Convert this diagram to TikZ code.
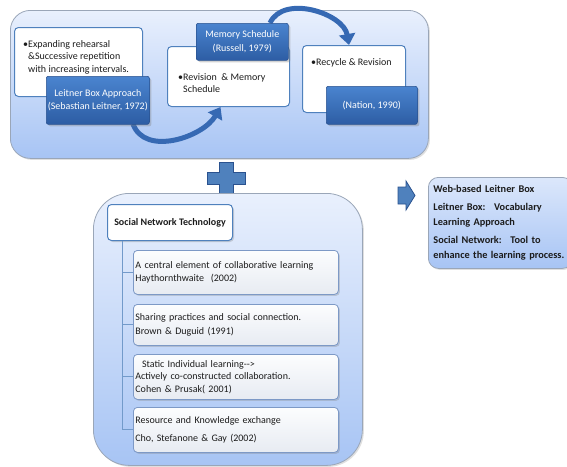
\documentclass[tikz,border=0pt]{standalone}
\usepackage{fontspec}
\setmainfont{Carlito}
\usetikzlibrary{calc,shadows,arrows.meta}

\definecolor{panelTop}{HTML}{E9F0FD}
\definecolor{panelBottom}{HTML}{A7C4F4}
\definecolor{panelEdge}{HTML}{9AA6B8}
\definecolor{boxEdge}{HTML}{4F81BD}
\definecolor{darkTop}{HTML}{4A84CF}
\definecolor{darkBottom}{HTML}{2D5DA4}
\definecolor{darkEdge}{HTML}{2A528F}
\definecolor{arrowBlue}{HTML}{3669B3}
\definecolor{refTop}{HTML}{FCFDFE}
\definecolor{refBottom}{HTML}{E7EBF2}
\definecolor{refEdge}{HTML}{7D99C6}
\definecolor{textDark}{HTML}{1C1C1C}

\newcommand{\noteFont}{\fontsize{10}{12.5}\selectfont}
\newcommand{\refLeft}{133}
\newcommand{\trunkOffset}{15}

\begin{document}
\begin{tikzpicture}[x=1pt, y=-1pt,
	panel/.style={draw=panelEdge, line width=.8pt, top color=panelTop, bottom color=panelBottom, anchor=north west, inner sep=0pt, drop shadow={shadow xshift=1.5pt, shadow yshift=-1.5pt, opacity=.25}},
	notebox/.style={draw=boxEdge, line width=1pt, fill=white, rounded corners=4pt, anchor=north west, inner sep=0pt},
	notetext/.style={anchor=north west, inner sep=0pt, align=left, font=\noteFont, text=textDark},
	titlebox/.style={draw=darkEdge, line width=.6pt, top color=darkTop, bottom color=darkBottom, rounded corners=2pt, anchor=north west, inner sep=0pt, align=center, text=white, font=\fontsize{10}{13.5}\selectfont, drop shadow={shadow xshift=2pt, shadow yshift=-2pt, opacity=.35}},
	refbox/.style={draw=refEdge, line width=.8pt, top color=refTop, bottom color=refBottom, rounded corners=4pt, anchor=north west, minimum width=205pt, inner xsep=2pt, inner ysep=0pt, text width=201pt, align=left, font=\fontsize{10}{13.5}\selectfont, text=textDark, drop shadow={shadow xshift=1.5pt, shadow yshift=-1.5pt, opacity=.3}},
	curveArrow/.style={draw=arrowBlue, line width=5pt, -{Triangle[length=11pt, width=16pt]}},
	trunk/.style={draw=boxEdge!80, line width=.9pt}]
	
	\useasboundingbox (0,0) rectangle (567,466);
	
	% vocabulary learning approaches
	\node[panel, rounded corners=20pt, minimum width=418pt, minimum height=148pt] (leitnerPanel) at (10,10) {};
	\node[notebox, minimum width=128pt, minimum height=69pt] (expand) at (14,27) {};
	\node[notebox, minimum width=122pt, minimum height=60pt] (revision) at (167,46) {};
	\node[notebox, minimum width=103pt, minimum height=67pt] (recycle) at (302,45) {};
	\node[notetext] (expandText) at ([xshift=14pt, yshift=-13pt]expand.north west) {\llap{\textbullet}Expanding rehearsal\\\&Successive repetition\\with increasing intervals.};
	\node[notetext] (revisionText) at ([xshift=16pt, yshift=-27pt]revision.north west) {\llap{\textbullet}Revision \ \& Memory\\Schedule};
	\node[notetext] (recycleText) at ([xshift=14pt, yshift=-13pt]recycle.north west) {\llap{\textbullet}Recycle \& Revision};
	
	\draw[curveArrow] (133,124) to[out=-70, in=-120] ([xshift=-8pt]revision.south);
	\draw[curveArrow] (270,23) to[out=65, in=100] ([xshift=-5pt]recycle.north);
	
	\node[titlebox, minimum width=103pt, minimum height=48pt] (leitner) at (46,76) {Leitner Box Approach\\(Sebastian Leitner, 1972)};
	\node[titlebox, minimum width=92pt, minimum height=37pt] (memory) at (196,23) {Memory Schedule\\(Russell, 1979)};
	\node[titlebox, minimum width=91pt, minimum height=38pt] (nation) at (326,86) {(Nation, 1990)};
	
	% plus sign
	\draw[draw=darkEdge, line width=.8pt, fill=boxEdge] (219,162) -- (233,162) -- (233,172) -- (245,172) -- (245,184) -- (233,184) -- (233,194) -- (219,194) -- (219,184) -- (207,184) -- (207,172) -- (219,172) -- cycle;
	
	% social network technology
	\node[panel, rounded corners=36pt, minimum width=269pt, minimum height=272pt] (socialPanel) at (93,193) {};
	\node[notebox, minimum width=125pt, minimum height=36pt, font=\bfseries\fontsize{10}{12}\selectfont, text=textDark, drop shadow={shadow xshift=1.5pt, shadow yshift=-1.5pt, opacity=.3}] (snt) at (107,204) {Social Network Technology};
	\node[refbox, minimum height=44pt] (refA) at (\refLeft,250) {A central element of collaborative learning\\Haythornthwaite \ (2002)};
	\node[refbox, minimum height=41pt] (refB) at (\refLeft,304) {Sharing practices and social connection.\\Brown \& Duguid (1991)};
	\node[refbox, minimum height=45pt, font=\fontsize{10}{12.5}\selectfont] (refC) at (\refLeft,354) {\ \ Static Individual learning{-}{-}>\\Actively co-constructed collaboration.\\Cohen \& Prusak( 2001)};
	\node[refbox, minimum height=45pt] (refD) at (\refLeft,407) {Resource and Knowledge exchange\\[5pt]Cho, Stefanone \& Gay (2002)};
	
	\coordinate (trunkTop) at ([xshift=\trunkOffset pt]snt.south west);
	\foreach \refName in {refA,refB,refC,refD}
	{
		\draw[trunk] (trunkTop) |- (\refName.west);
	}
	
	% result
	\draw[draw=darkEdge, line width=.8pt, fill=boxEdge] (398,187) -- (406,187) -- (406,181) -- (415,195.5) -- (406,210) -- (406,204) -- (398,204) -- cycle;
	\node[panel, rounded corners=10pt, minimum width=139pt, minimum height=91pt, top color=panelTop!80!panelBottom, text width=134pt, inner xsep=5pt, align=left, font=\bfseries\fontsize{10.3}{15}\selectfont, text=textDark] (summary) at (428,177) {Web-based Leitner Box\\[3pt]Leitner Box: \ Vocabulary\\Learning Approach\\[3pt]Social Network: \ Tool to\\enhance the learning process.};
\end{tikzpicture}
\end{document}
